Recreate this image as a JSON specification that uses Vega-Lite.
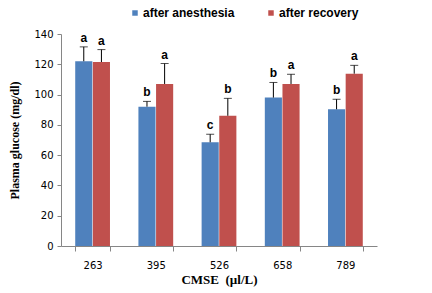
{
  "$schema": "https://vega.github.io/schema/vega-lite/v6.json",
  "width": 316,
  "height": 212,
  "autosize": "none",
  "padding": {"left": 61, "top": 34, "right": 55, "bottom": 47},
  "background": "white",
  "config": {
    "view": {"stroke": null},
    "axisY": {
      "title": "Plasma glucose (mg/dl)", "titleFont": "Liberation Serif", "titleFontSize": 12, "titleFontWeight": "bold", "titleColor": "black", "titlePadding": 12,
      "labelFont": "DejaVu Sans", "labelFontSize": 10, "labelColor": "black", "labelPadding": 4,
      "tickSize": 4, "tickColor": "#868686", "domainColor": "#868686", "grid": false
    }
  },
  "data": {
    "values": [
      {"dose": "263", "group": "after anesthesia", "value": 122, "top": 131.5, "letter": "a"},
      {"dose": "263", "group": "after recovery", "value": 121.5, "top": 129.7, "letter": "a"},
      {"dose": "395", "group": "after anesthesia", "value": 92, "top": 95.5, "letter": "b"},
      {"dose": "395", "group": "after recovery", "value": 107, "top": 120.5, "letter": "a"},
      {"dose": "526", "group": "after anesthesia", "value": 68.5, "top": 73.8, "letter": "c"},
      {"dose": "526", "group": "after recovery", "value": 86, "top": 97.5, "letter": "b"},
      {"dose": "658", "group": "after anesthesia", "value": 98, "top": 108, "letter": "b"},
      {"dose": "658", "group": "after recovery", "value": 107, "top": 113.4, "letter": "a"},
      {"dose": "789", "group": "after anesthesia", "value": 90.3, "top": 96.9, "letter": "b"},
      {"dose": "789", "group": "after recovery", "value": 113.8, "top": 119.3, "letter": "a"}
    ]
  },
  "encoding": {
    "x": {
      "field": "dose", "type": "nominal", "sort": null,
      "scale": {"paddingInner": 0.45, "paddingOuter": 0.225},
      "axis": {
        "title": "CMSE\u00a0 (µl/L)", "titleFont": "Liberation Serif", "titleFontSize": 13, "titleFontWeight": "bold", "titleColor": "black", "titlePadding": 3,
        "labelAngle": 0, "labelFont": "DejaVu Sans", "labelFontSize": 10, "labelColor": "black", "labelPadding": 9,
        "tickBand": "extent", "tickSize": 5, "tickColor": "#868686", "domainColor": "#868686", "grid": false
      }
    },
    "xOffset": {"field": "group", "type": "nominal", "scale": {"paddingInner": 0.03}}
  },
  "layer": [
    {
      "mark": {"type": "bar"},
      "encoding": {
        "y": {
          "field": "value", "type": "quantitative",
          "scale": {"domain": [0, 140]},
          "axis": {"title": "Plasma glucose (mg/dl)", "values": [0, 20, 40, 60, 80, 100, 120, 140], "labelOverlap": false}
        },
        "color": {
          "field": "group", "type": "nominal",
          "scale": {"range": ["#4F81BD", "#C0504D"]},
          "legend": {
            "title": null, "orient": "none", "direction": "horizontal",
            "legendX": 68, "legendY": -27,
            "symbolType": "square", "symbolSize": 30, "symbolStrokeWidth": 0,
            "labelFont": "Liberation Sans", "labelFontSize": 12, "labelFontWeight": "bold", "labelColor": "black",
            "labelOffset": 2, "columnPadding": 30
          }
        }
      }
    },
    {
      "mark": {"type": "rule", "color": "black", "strokeWidth": 1},
      "encoding": {
        "y": {"field": "value", "type": "quantitative", "axis": {"title": "Plasma glucose (mg/dl)", "values": [0, 20, 40, 60, 80, 100, 120, 140], "labelOverlap": false}},
        "y2": {"field": "top"}
      }
    },
    {
      "mark": {"type": "tick", "color": "black", "thickness": 1, "size": 8},
      "encoding": {
        "y": {"field": "top", "type": "quantitative", "axis": {"title": "Plasma glucose (mg/dl)", "values": [0, 20, 40, 60, 80, 100, 120, 140], "labelOverlap": false}}
      }
    },
    {
      "mark": {"type": "text", "font": "Liberation Sans", "fontSize": 12, "fontWeight": "bold", "baseline": "bottom", "dy": -2, "color": "black"},
      "encoding": {
        "y": {"field": "top", "type": "quantitative", "axis": {"title": "Plasma glucose (mg/dl)", "values": [0, 20, 40, 60, 80, 100, 120, 140], "labelOverlap": false}},
        "text": {"field": "letter"}
      }
    }
  ]
}
